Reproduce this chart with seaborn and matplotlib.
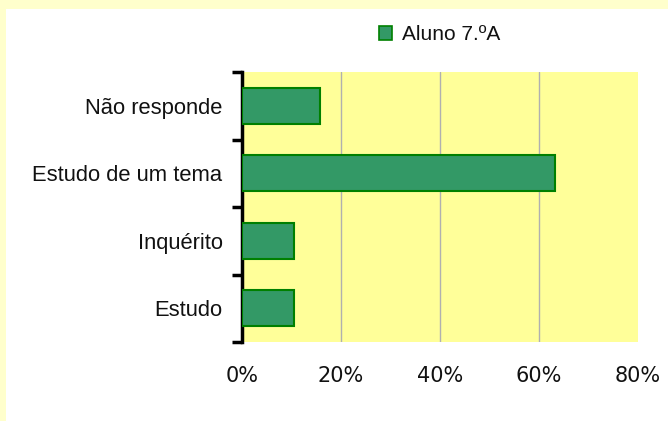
import pandas as pd
import numpy as np
import matplotlib.pyplot as plt
import seaborn as sns
from matplotlib.patches import Patch, Rectangle
from matplotlib.ticker import FixedLocator, PercentFormatter

# Data (percent of answers)
categories = ['Não responde', 'Estudo de um tema', 'Inquérito', 'Estudo']
values = [15.8, 63.2, 10.5, 10.5]
series_name = 'Aluno 7.ºA'
x_ticks = [0, 20, 40, 60, 80]

sns.set_theme(style="white")
plt.rcParams['font.family'] = ['Liberation Sans', 'DejaVu Sans']

df = pd.DataFrame({'Categoria': categories, 'Percent': values})

fig = plt.figure(figsize=(6.68, 4.21), dpi=100)
fig.patch.set_facecolor('white')

# pale yellow border strips (top and left)
fig.patches.append(Rectangle((0, 1 - 9 / 421), 1, 9 / 421, transform=fig.transFigure,
                             facecolor='#FFFFCC', edgecolor='none', zorder=0))
fig.patches.append(Rectangle((0, 0), 6 / 668, 1, transform=fig.transFigure,
                             facecolor='#FFFFCC', edgecolor='none', zorder=0))

ax = fig.add_axes([242 / 668, 79 / 421, 396 / 668, 270 / 421])
ax.set_facecolor('#FFFF99')

sns.barplot(data=df, x='Percent', y='Categoria', order=categories, orient='h',
            color='#339966', saturation=1, width=0.53,
            edgecolor='#008000', linewidth=1.5, ax=ax, zorder=3)

ax.set_xlim(0, 80)
ax.set_ylim(3.5, -0.5)
ax.set_xlabel('')
ax.set_ylabel('')

ax.xaxis.set_major_locator(FixedLocator(x_ticks))
ax.xaxis.set_major_formatter(PercentFormatter(decimals=0))
ax.tick_params(axis='x', length=0, pad=17, labelsize=15)
for lab in ax.get_xticklabels():
    lab.set_fontfamily('DejaVu Sans')
    lab.set_color('#111111')

# vertical grid lines
for v in x_ticks[1:-1]:
    ax.axvline(v, color='#b0b0b0', linewidth=1, zorder=1)

# category ticks between bars
ax.yaxis.set_minor_locator(FixedLocator(np.arange(-0.5, len(categories), 1.0)))
ax.tick_params(axis='y', which='major', length=0, pad=14, labelsize=15.8, labelcolor='#111111')
ax.tick_params(axis='y', which='minor', length=7, width=2.5, color='black', left=True)

for s in ['top', 'right', 'bottom']:
    ax.spines[s].set_visible(False)
ax.spines['left'].set_color('black')
ax.spines['left'].set_linewidth(2.5)

handle = Patch(facecolor='#339966', edgecolor='#008000', linewidth=1.2, label=series_name)
fig.legend(handles=[handle], loc='center left', bbox_to_anchor=(360 / 668, 1 - 35 / 421),
           frameon=False, fontsize=15, handlelength=0.65, handleheight=0.65,
           handletextpad=0.45, labelcolor='#111111')

plt.savefig('out.png', dpi=100, facecolor=fig.get_facecolor())
plt.close()
